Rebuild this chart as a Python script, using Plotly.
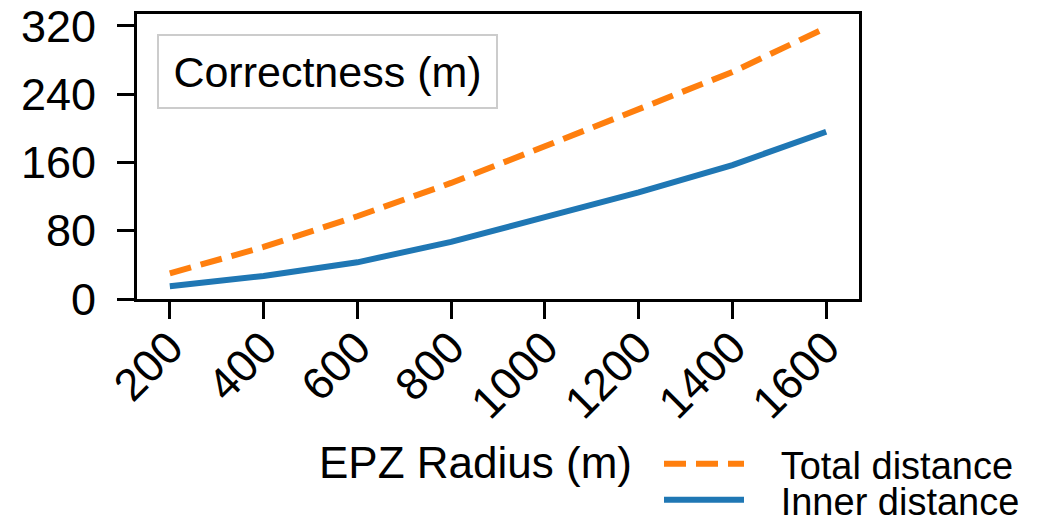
import plotly.graph_objects as go

radius = [200, 400, 600, 800, 1000, 1200, 1400, 1600]
total_distance = [30, 61, 97, 136, 179, 222, 266, 318]
inner_distance = [15, 27, 43, 67, 96, 125, 157, 196]
y_ticks = [0, 80, 160, 240, 320]

FONT = "Liberation Sans, Arial, sans-serif"
L, R, T, B = 137, 859, 14, 299
W, H = 1048, 522

def px_x(p):
    return (p - L) / (R - L)

def px_y(p):
    return (B - p) / (B - T)

def cy(p):
    return (H - p) / H

fig = go.Figure()
fig.add_trace(go.Scatter(
    x=radius, y=total_distance, mode="lines", name="\u00a0\u00a0\u00a0Total distance",
    line=dict(color="#ff7f0e", width=6, dash="22px,10px"),
    legend="legend",
))
fig.add_trace(go.Scatter(
    x=radius, y=inner_distance, mode="lines", name="\u00a0\u00a0\u00a0Inner distance",
    line=dict(color="#1f77b4", width=6),
    legend="legend2",
))

axis_common = dict(
    showline=True, linecolor="black", linewidth=3, mirror=True,
    ticks="outside", ticklen=17, tickwidth=3, tickcolor="black",
    showgrid=False, zeroline=False, automargin=False,
    tickfont=dict(family=FONT, size=45, color="black"),
)

legend_common = dict(
    xref="paper", yref="container", xanchor="left", yanchor="middle",
    font=dict(family=FONT, size=38, color="black"),
    bgcolor="rgba(0,0,0,0)", itemwidth=80, borderwidth=0,
)

fig.update_layout(
    width=W, height=H,
    margin=dict(l=L, r=W - R, t=T, b=H - B, pad=0, autoexpand=False),
    paper_bgcolor="white", plot_bgcolor="white",
    font=dict(family=FONT, color="black"),
    xaxis=dict(range=[130, 1670], tickvals=radius,
               ticktext=[str(v) for v in radius], tickangle=-45,
               ticklabelstandoff=-16,
               **axis_common),
    yaxis=dict(range=[0, 334], tickvals=y_ticks,
               ticktext=[str(v) for v in y_ticks], ticklabelstandoff=12,
               **axis_common),
    legend=dict(x=px_x(659), y=cy(464), **legend_common),
    legend2=dict(x=px_x(659), y=cy(500), **legend_common),
    showlegend=True,
)

fig.add_annotation(
    x=px_x(327), y=px_y(71.5), xref="paper", yref="paper",
    xanchor="center", yanchor="middle",
    text="Correctness (m)", showarrow=False,
    font=dict(family=FONT, size=43, color="black"),
    bordercolor="#cccccc", borderwidth=2, borderpad=8,
    bgcolor="white", width=321, height=55,
)

fig.add_annotation(
    x=px_x(475), y=px_y(462), xref="paper", yref="paper",
    xanchor="center", yanchor="middle",
    text="EPZ Radius (m)", showarrow=False,
    font=dict(family=FONT, size=44, color="black"),
)

fig.write_html("out.html")
